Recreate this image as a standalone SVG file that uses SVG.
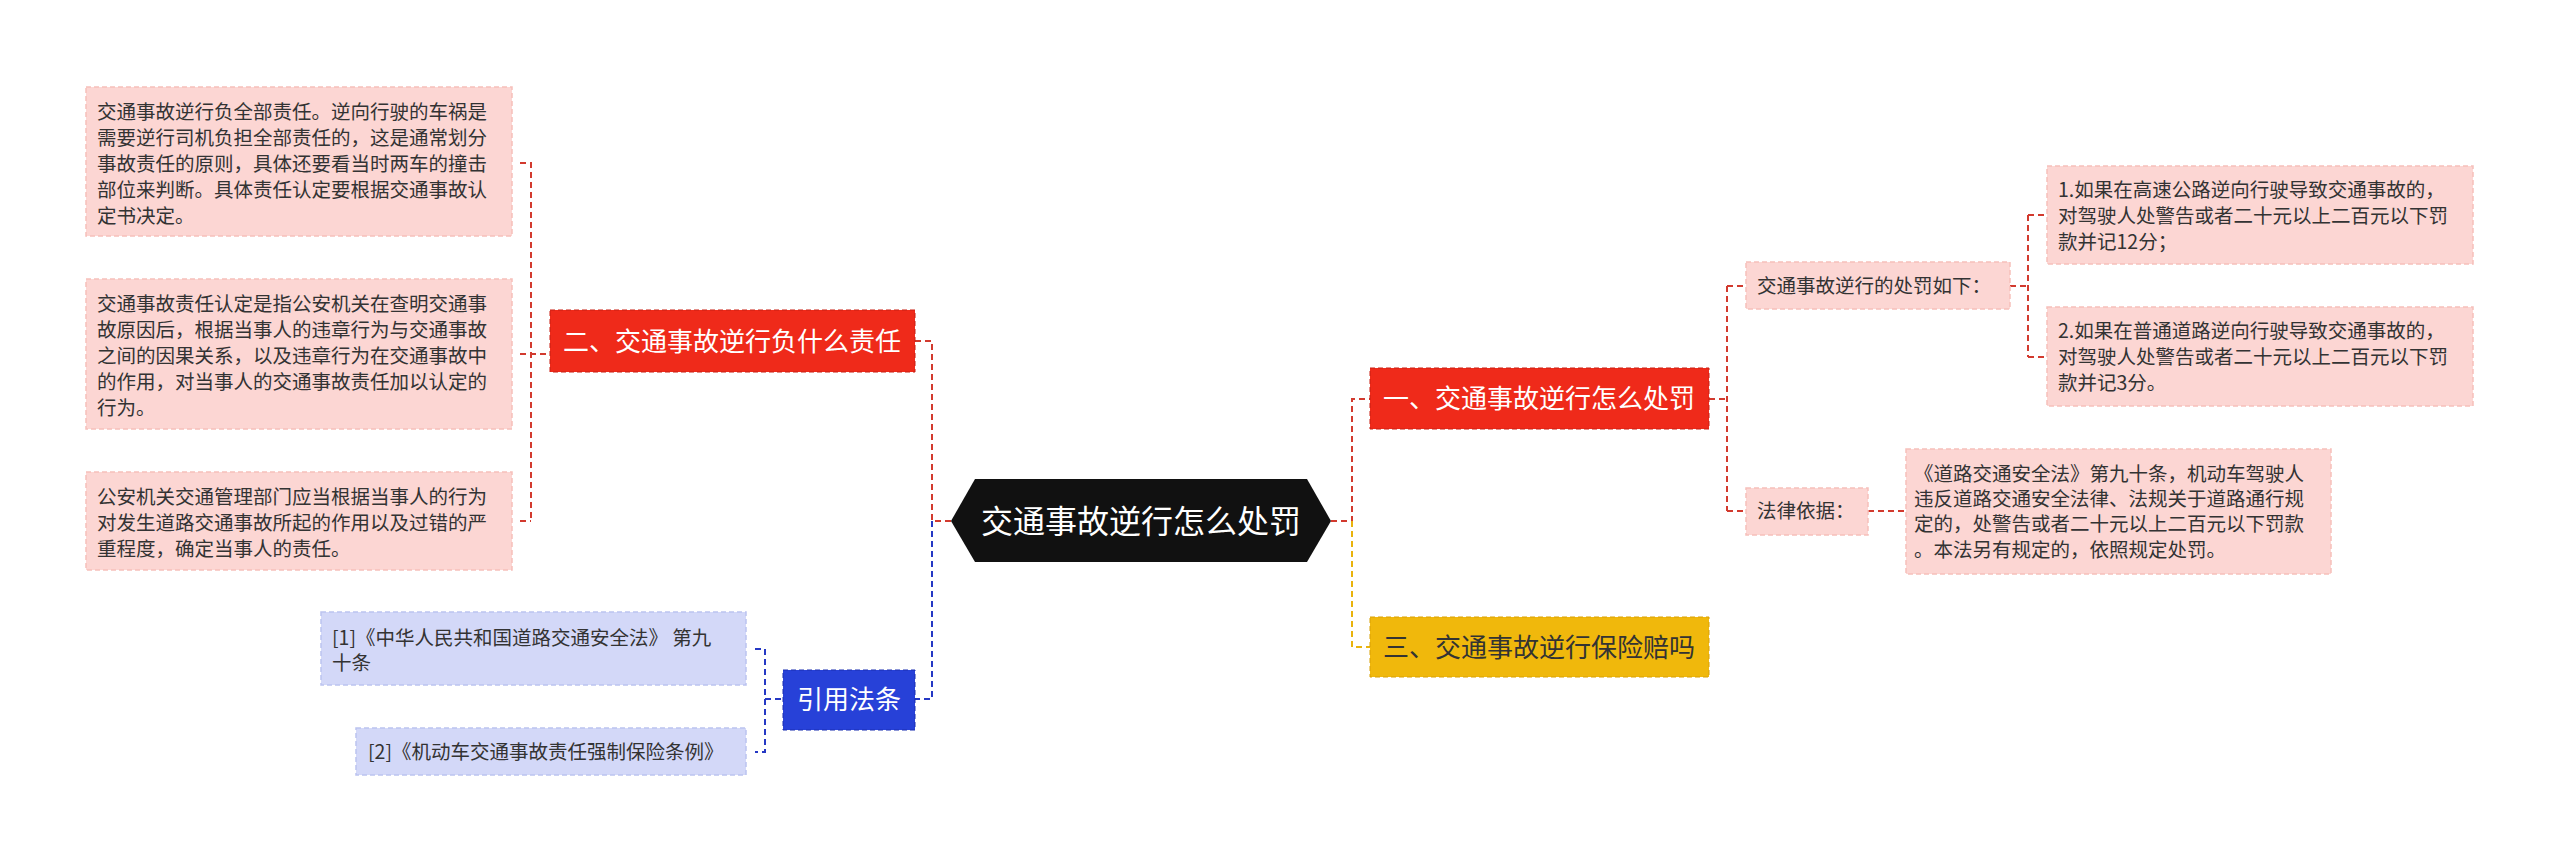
<svg xmlns="http://www.w3.org/2000/svg" width="2560" height="865" viewBox="0 0 2560 865">
<style>
text{font-family:"Noto Sans CJK SC","Liberation Sans",sans-serif;}
.t{font-size:19.5px;fill:#333;}
.pk{fill:#fcd6d3;stroke:#f6c0bb;stroke-width:1.5;stroke-dasharray:5 3;}
.bl{fill:#d3d8f8;stroke:#bcc3f0;stroke-width:1.5;stroke-dasharray:5 3;}
.cr{fill:none;stroke:#d23a2e;stroke-width:2;stroke-dasharray:6 4;}
.cb{fill:none;stroke:#2538c4;stroke-width:2;stroke-dasharray:6 4;}
.cy{fill:none;stroke:#e9b30d;stroke-width:2;stroke-dasharray:6 4;}
.w{fill:#fff;font-size:26px;}
</style>
<rect width="2560" height="865" fill="#fff"/>
<g id="connectors">
<path class="cr" d="M520 163H531V521M520 354H548M520 521H531"/>
<path class="cr" d="M915 341H932V521H951"/>
<path class="cb" d="M932 521V699H915"/>
<path class="cb" d="M755 649H765V752H755M765 699H783"/>
<path class="cr" d="M1331 521H1352V399H1370"/>
<path class="cy" d="M1352 521V647H1370"/>
<path class="cr" d="M1709 399H1727M1727 286V511M1727 286H1746M1727 511H1746"/>
<path class="cr" d="M2010 286H2028M2028 215V357M2028 215H2047M2028 357H2047"/>
<path class="cr" d="M1868 511H1906"/>
</g>
<g id="center">
<path d="M951 521L975 479H1307L1331 521L1307 562H975Z" fill="#111"/>
<text x="1141" y="533" text-anchor="middle" style="font-size:32px;fill:#fff">交通事故逆行怎么处罚</text>
</g>
<g id="n2">
<rect x="550" y="310" width="365" height="62" fill="#ef2a1a" stroke="#c81e12" stroke-dasharray="5 3"/>
<text class="w" x="732" y="351" text-anchor="middle">二、交通事故逆行负什么责任</text>
</g>
<g id="l1">
<rect class="pk" x="86" y="87" width="426" height="149"/>
<text class="t"><tspan x="97" y="119">交通事故逆行负全部责任。逆向行驶的车祸是</tspan><tspan x="97" y="145">需要逆行司机负担全部责任的，这是通常划分</tspan><tspan x="97" y="171">事故责任的原则，具体还要看当时两车的撞击</tspan><tspan x="97" y="197">部位来判断。具体责任认定要根据交通事故认</tspan><tspan x="97" y="223">定书决定。</tspan></text>
</g>
<g id="l2">
<rect class="pk" x="86" y="279" width="426" height="150"/>
<text class="t"><tspan x="97" y="311">交通事故责任认定是指公安机关在查明交通事</tspan><tspan x="97" y="337">故原因后，根据当事人的违章行为与交通事故</tspan><tspan x="97" y="363">之间的因果关系，以及违章行为在交通事故中</tspan><tspan x="97" y="389">的作用，对当事人的交通事故责任加以认定的</tspan><tspan x="97" y="415">行为。</tspan></text>
</g>
<g id="l3">
<rect class="pk" x="86" y="472" width="426" height="98"/>
<text class="t"><tspan x="97" y="504">公安机关交通管理部门应当根据当事人的行为</tspan><tspan x="97" y="530">对发生道路交通事故所起的作用以及过错的严</tspan><tspan x="97" y="556">重程度，确定当事人的责任。</tspan></text>
</g>
<g id="ref">
<rect x="783" y="670" width="132" height="60" fill="#2741d8" stroke="#1a2fb0" stroke-dasharray="5 3"/>
<text class="w" x="849" y="709" text-anchor="middle">引用法条</text>
</g>
<g id="r1">
<rect class="bl" x="321" y="612" width="425" height="73"/>
<text class="t"><tspan x="332" y="645">[1]《中华人民共和国道路交通安全法》 第九</tspan><tspan x="332" y="670">十条</tspan></text>
</g>
<g id="r2">
<rect class="bl" x="356" y="728" width="390" height="47"/>
<text class="t" x="368" y="759">[2]《机动车交通事故责任强制保险条例》</text>
</g>
<g id="n1">
<rect x="1370" y="368" width="339" height="61" fill="#ef2a1a" stroke="#c81e12" stroke-dasharray="5 3"/>
<text class="w" x="1539" y="408" text-anchor="middle">一、交通事故逆行怎么处罚</text>
</g>
<g id="n3">
<rect x="1370" y="617" width="339" height="60" fill="#f0b80c" stroke="#d9a005" stroke-dasharray="5 3"/>
<text x="1539" y="657" text-anchor="middle" style="font-size:26px;fill:#333">三、交通事故逆行保险赔吗</text>
</g>
<g id="s1">
<rect class="pk" x="1746" y="262" width="264" height="47"/>
<text class="t" x="1757" y="293">交通事故逆行的处罚如下：</text>
</g>
<g id="s2">
<rect class="pk" x="1746" y="488" width="122" height="47"/>
<text class="t" x="1757" y="518">法律依据：</text>
</g>
<g id="p1">
<rect class="pk" x="2047" y="166" width="426" height="98"/>
<text class="t"><tspan x="2058" y="197">1.如果在高速公路逆向行驶导致交通事故的，</tspan><tspan x="2058" y="223">对驾驶人处警告或者二十元以上二百元以下罚</tspan><tspan x="2058" y="249">款并记12分；</tspan></text>
</g>
<g id="p2">
<rect class="pk" x="2047" y="307" width="426" height="99"/>
<text class="t"><tspan x="2058" y="338">2.如果在普通道路逆向行驶导致交通事故的，</tspan><tspan x="2058" y="364">对驾驶人处警告或者二十元以上二百元以下罚</tspan><tspan x="2058" y="390">款并记3分。</tspan></text>
</g>
<g id="law">
<rect class="pk" x="1906" y="449" width="425" height="125"/>
<text class="t"><tspan x="1914" y="481">《道路交通安全法》第九十条，机动车驾驶人</tspan><tspan x="1914" y="506">违反道路交通安全法律、法规关于道路通行规</tspan><tspan x="1914" y="531">定的，处警告或者二十元以上二百元以下罚款</tspan><tspan x="1914" y="557">。本法另有规定的，依照规定处罚。</tspan></text>
</g>
</svg>
